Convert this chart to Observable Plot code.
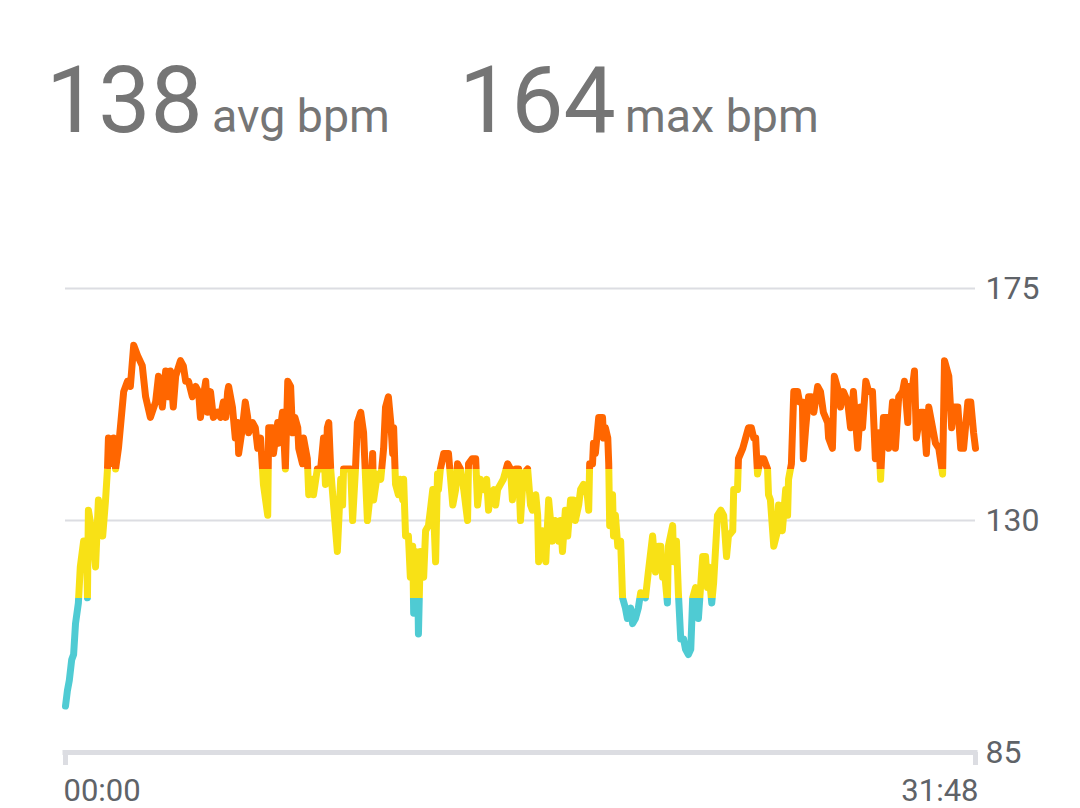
<!DOCTYPE html>
<html>
<head>
<meta charset="utf-8">
<script src="https://cdn.jsdelivr.net/npm/d3@7"></script>
<script src="https://cdn.jsdelivr.net/npm/@observablehq/plot@0.6"></script>
<style>
  html, body { margin: 0; padding: 0; background: #ffffff; }
  body { width: 1080px; height: 808px; position: relative; overflow: hidden; font-family: Roboto, "Noto Sans", sans-serif; }
  .stat { position: absolute; color: #757575; white-space: nowrap; line-height: 1; }
  .big { font-size: 93px; top: 54px; }
  .unit { font-size: 46.5px; top: 93px; }
  #chart { position: absolute; left: 0; top: 240px; }
</style>
</head>
<body>
<div class="stat big" id="avgVal" style="left:46px"></div>
<div class="stat unit" id="avgLbl" style="left:212px"></div>
<div class="stat big" id="maxVal" style="left:459px"></div>
<div class="stat unit" id="maxLbl" style="left:625px"></div>
<div id="chart"></div>
<script>
// ---- summary values ----
const summaryValues = [138, 164];
const summaryLabels = ["avg bpm", "max bpm"];

// ---- axis ticks ----
const yTicks = [85, 130, 175];
const timeTicks = [0, 1908]; // seconds: 00:00 and 31:48

// ---- heart-rate zones ----
const zoneLimits = [115, 140];
const zoneColors = ["#4fcbd3", "#f8e116", "#ff6600"];

// ---- samples: elapsed seconds and heart rate (bpm) ----
const seconds = [
  0,4,8,13,17,21,27,31,38,44,46,48,57,63,69,78,84,88,90,99,101,105,111,122,130,136,143,151,161,168,178,189,195,
  203,210,216,220,226,231,241,247,252,258,266,273,279,283,289,294,298,304,310,319,325,331,336,340,342,350,356,361,363,371,377,382,384,392,398,403,409,
  413,415,424,426,434,436,445,447,455,457,461,466,472,476,481,487,489,497,499,507,510,518,520,528,535,539,541,545,549,552,556,562,570,577,581,583,591,598,602,608,612,619,
  625,633,640,644,646,654,661,667,671,677,682,686,688,692,698,702,707,709,713,719,723,728,730,734,738,740,744,751,755,761,765,770,776,780,782,786,793,803,812,818,822,
  828,835,843,845,853,860,864,870,877,883,887,891,898,902,906,912,918,927,933,937,944,950,954,960,969,975,979,986,990,992,1000,1007,1013,1021,1027,1034,
  1038,1042,1048,1053,1059,1065,1069,1076,1080,1086,1094,1097,1099,1105,1107,1111,1118,1126,1128,1132,1137,1139,1141,1147,1149,1153,1158,1164,1168,1174,1178,1185,1189,1195,1201,1206,1216,1222,1231,1237,1243,
  1248,1252,1256,1262,1264,1273,1275,1281,1285,1290,1296,1300,1306,1311,1315,1321,1327,1336,1342,1346,1348,1355,1359,1367,1374,1380,1386,1390,1399,1401,1409,1411,1420,1426,1432,1438,1443,1447,1451,1457,1464,1472,1474,1478,1485,1493,1495,1503,1510,1514,1516,1522,1527,1535,1539,1545,1547,1552,1558,1564,1569,1577,1583,1589,1598,1600,1608,1612,1621,1625,1631,1640,1646,1652,1661,1667,
  1671,1678,1684,1692,1698,1705,1709,1715,1724,1726,1734,1740,1747,1755,1759,1766,1768,1776,1780,1784,1793,1799,1805,1810,1818,1824,1831,1839,1843,1852,1858,1862,1871,1877,1883,1892,1898,1904,1908
];
const bpm = [
  94,97,99,103,104,110,114,121,126,126,115,132,127,121,134,127,134,140,146,141,146,140,144,155,157,156,164,162,160,154,150,153,158,
  152,159,154,159,152,158,161,160,157,157,154,156,155,150,154,157,151,155,150,151,150,153,150,155,156,152,146,149,143,148,153,150,147,149,148,144,146,
  140,137,131,148,148,143,149,145,151,148,140,157,156,147,150,148,144,141,146,142,135,138,135,140,140,144,146,137,148,149,140,133,124,138,133,140,140,140,130,140,149,151,
  147,130,136,143,134,139,138,144,152,154,149,143,148,137,135,138,134,138,127,127,119,125,112,124,122,108,124,119,128,129,132,136,122,139,136,140,143,143,133,136,141,
  140,136,130,141,142,142,133,138,136,138,132,135,136,133,136,137,138,141,140,134,140,140,130,139,140,133,132,135,131,122,128,122,134,126,130,126,
  130,124,132,127,134,134,130,133,136,137,135,132,141,141,145,143,150,150,146,148,146,141,129,135,127,131,125,126,115,113,111,113,110,111,113,116,115,120,127,120,125,
  125,119,120,114,125,129,122,126,116,107,107,105,104,105,115,117,111,123,123,117,121,114,118,131,132,131,123,127,128,136,136,142,144,146,148,148,146,146,139,142,142,140,135,134,125,128,133,128,136,131,138,141,155,155,153,153,142,148,154,154,151,156,155,151,149,146,144,158,155,152,155,153,148,155,144,152,
  148,157,155,155,142,147,138,150,150,144,153,144,154,155,157,149,156,156,159,146,151,151,143,152,148,145,144,139,161,158,148,152,152,144,144,153,153,147,144
];

const n = Math.min(seconds.length, bpm.length);
const samples = d3.range(n).map(i => ({t: seconds[i], hr: bpm[i]}));

const fmtTime = s => String(Math.floor(s / 60)).padStart(2, "0") + ":" + String(s % 60).padStart(2, "0");

document.getElementById("avgVal").textContent = summaryValues[0];
document.getElementById("avgLbl").textContent = summaryLabels[0];
document.getElementById("maxVal").textContent = summaryValues[1];
document.getElementById("maxLbl").textContent = summaryLabels[1];

const axisGray = "#dcdde2";
const labelGray = "#5f6368";

const plot = Plot.plot({
  width: 1080,
  height: 568,
  marginTop: 48,
  marginBottom: 56,
  marginLeft: 65,
  marginRight: 105,
  style: {fontFamily: "Roboto, 'Noto Sans', sans-serif", background: "transparent", overflow: "visible"},
  x: {domain: [timeTicks[0], timeTicks[1]], axis: null},
  y: {domain: [yTicks[0], yTicks[2]], axis: null, label: null},
  marks: [
    Plot.ruleY(yTicks.slice(1), {stroke: axisGray, strokeWidth: 2}),
    Plot.ruleY(yTicks.slice(0, 1), {stroke: axisGray, strokeWidth: 5, strokeLinecap: "square"}),
    Plot.axisX(timeTicks, {tickSize: 13, strokeWidth: 5, stroke: axisGray, tickFormat: () => "", label: null}),
    Plot.axisX(timeTicks.slice(0, 1), {tickSize: 0, tickPadding: 26, textAnchor: "start", dx: -2, tickFormat: fmtTime, fontSize: 31, fill: labelGray, label: null}),
    Plot.axisX(timeTicks.slice(1), {tickSize: 0, tickPadding: 26, textAnchor: "end", dx: 3, tickFormat: fmtTime, fontSize: 31, fill: labelGray, label: null}),
    Plot.axisY(yTicks, {anchor: "right", tickSize: 0, tickPadding: 10, fontSize: 32, fill: labelGray, label: null}),
    Plot.line(samples, {x: "t", y: "hr", stroke: "url(#hrZones)", strokeWidth: 7, strokeLinejoin: "round", strokeLinecap: "round"})
  ]
});

// zone colouring: hard-stop gradient placed at the y-scale positions of the zone limits
const ys = plot.scale("y");
const ns = "http://www.w3.org/2000/svg";
const defs = document.createElementNS(ns, "defs");
const grad = document.createElementNS(ns, "linearGradient");
grad.setAttribute("id", "hrZones");
grad.setAttribute("gradientUnits", "userSpaceOnUse");
grad.setAttribute("x1", 0); grad.setAttribute("x2", 0);
grad.setAttribute("y1", ys.apply(zoneLimits[1]));
grad.setAttribute("y2", ys.apply(zoneLimits[0]));
[[0, zoneColors[2]], [0, zoneColors[1]], [1, zoneColors[1]], [1, zoneColors[0]]].forEach(([o, c]) => {
  const st = document.createElementNS(ns, "stop");
  st.setAttribute("offset", o);
  st.setAttribute("stop-color", c);
  grad.appendChild(st);
});
defs.appendChild(grad);
plot.insertBefore(defs, plot.firstChild);

document.getElementById("chart").appendChild(plot);
</script>
</body>
</html>
